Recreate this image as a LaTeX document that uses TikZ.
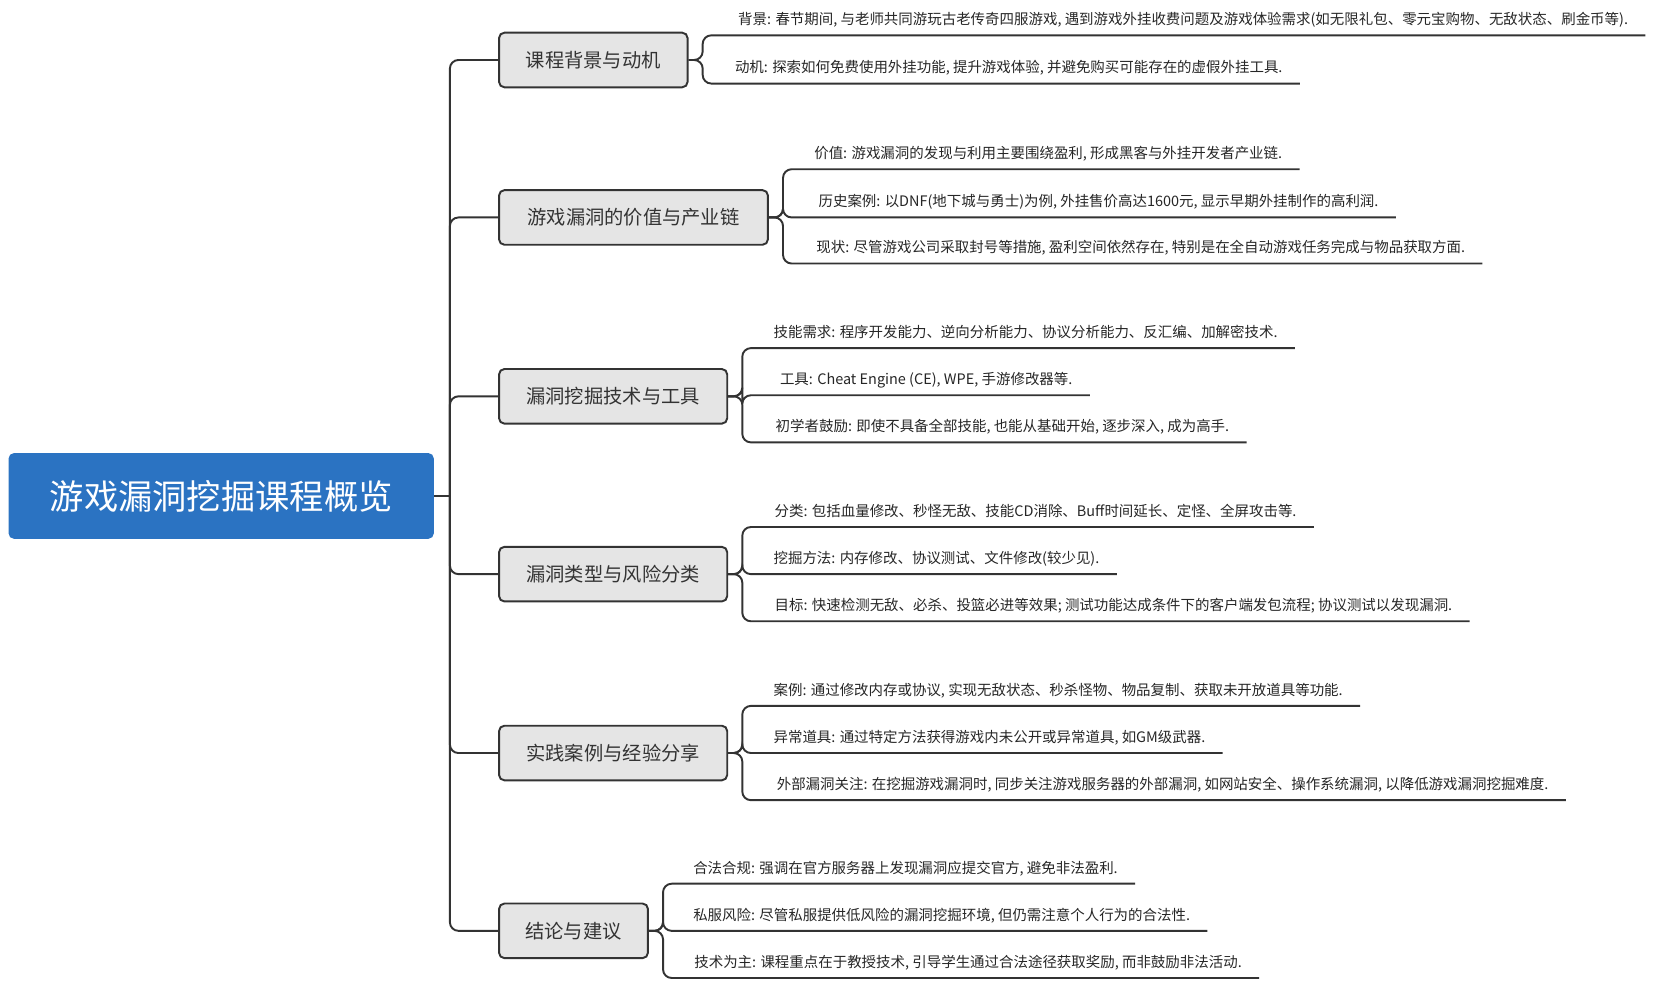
\documentclass[tikz,border=0pt]{standalone}
\usepackage{fontspec}
\setmainfont{Noto Sans CJK SC}
\begin{document}
\begin{tikzpicture}[x=1pt,y=-1pt,
  conn/.style={draw=black!80,line width=1.8pt,rounded corners=8pt},
  rootbox/.style={fill={rgb,255:red,43;green,115;blue,194},rounded corners=5pt,text=white,font=\fontsize{32}{36}\selectfont,minimum width=397pt,minimum height=80pt},
  branch/.style={draw=black!80,line width=1.8pt,fill=black!10,rounded corners=5pt,font=\fontsize{18}{21}\selectfont,text=black!80,minimum height=51pt,inner xsep=10pt,anchor=west},
  leaf/.style={font=\fontsize{13.5}{16}\selectfont,text=black!85,anchor=base west,inner sep=0pt}]
\useasboundingbox (0,0) rectangle (1560,934);
\node[rootbox] (root) at (206.5,463) {游戏漏洞挖掘课程概览};
\coordinate (t) at (420,463);
\draw[conn,rounded corners=0pt] (root.east) -- (t);
% branches
\node[branch,minimum width=176pt] (b1) at (465,56) {课程背景与动机};
\node[branch,minimum width=251pt] (b2) at (465,203) {游戏漏洞的价值与产业链};
\node[branch,minimum width=213pt] (b3) at (465,370) {漏洞挖掘技术与工具};
\node[branch,minimum width=213pt] (b4) at (465,536) {漏洞类型与风险分类};
\node[branch,minimum width=213pt] (b5) at (465,703) {实践案例与经验分享};
\node[branch,minimum width=139pt] (b6) at (465,869) {结论与建议};
\foreach \b in {b1,b2,b3,b4,b5,b6}{\draw[conn] (t) |- (\b.west);}
% branch 1
\node[leaf] (l11) at (689,23) {背景: 春节期间, 与老师共同游玩古老传奇四服游戏, 遇到游戏外挂收费问题及游戏体验需求(如无限礼包、零元宝购物、无敌状态、刷金币等).};
\node[leaf] (l12) at (686,68) {动机: 探索如何免费使用外挂功能, 提升游戏体验, 并避免购买可能存在的虚假外挂工具.};
\foreach \l in {l11,l12}{\draw[conn] (b1.east) -- (656,56) |- ([xshift=16pt,yshift=-10pt]\l.base east);}
% branch 2
\node[leaf] (l21) at (760,148) {价值: 游戏漏洞的发现与利用主要围绕盈利, 形成黑客与外挂开发者产业链.};
\node[leaf] (l22) at (764,193) {历史案例: 以DNF(地下城与勇士)为例, 外挂售价高达1600元, 显示早期外挂制作的高利润.};
\node[leaf] (l23) at (762,236) {现状: 尽管游戏公司采取封号等措施, 盈利空间依然存在, 特别是在全自动游戏任务完成与物品获取方面.};
\foreach \l in {l21,l22,l23}{\draw[conn] (b2.east) -- (731,203) |- ([xshift=16pt,yshift=-10pt]\l.base east);}
% branch 3
\node[leaf] (l31) at (722,315) {技能需求: 程序开发能力、逆向分析能力、协议分析能力、反汇编、加解密技术.};
\node[leaf] (l32) at (728,359) {工具: Cheat Engine (CE), WPE, 手游修改器等.};
\node[leaf] (l33) at (724,403) {初学者鼓励: 即使不具备全部技能, 也能从基础开始, 逐步深入, 成为高手.};
\foreach \l in {l31,l32,l33}{\draw[conn] (b3.east) -- (693,370) |- ([xshift=16pt,yshift=-10pt]\l.base east);}
% branch 4
\node[leaf] (l41) at (723,482) {分类: 包括血量修改、秒怪无敌、技能CD消除、Buff时间延长、定怪、全屏攻击等.};
\node[leaf] (l42) at (722,526) {挖掘方法: 内存修改、协议测试、文件修改(较少见).};
\node[leaf] (l43) at (723,570) {目标: 快速检测无敌、必杀、投篮必进等效果; 测试功能达成条件下的客户端发包流程; 协议测试以发现漏洞.};
\foreach \l in {l41,l42,l43}{\draw[conn] (b4.east) -- (693,536) |- ([xshift=16pt,yshift=-10pt]\l.base east);}
% branch 5
\node[leaf] (l51) at (722,649) {案例: 通过修改内存或协议, 实现无敌状态、秒杀怪物、物品复制、获取未开放道具等功能.};
\node[leaf] (l52) at (722,693) {异常道具: 通过特定方法获得游戏内未公开或异常道具, 如GM级武器.};
\node[leaf] (l53) at (725,737) {外部漏洞关注: 在挖掘游戏漏洞时, 同步关注游戏服务器的外部漏洞, 如网站安全、操作系统漏洞, 以降低游戏漏洞挖掘难度.};
\foreach \l in {l51,l52,l53}{\draw[conn] (b5.east) -- (693,703) |- ([xshift=16pt,yshift=-10pt]\l.base east);}
% branch 6
\node[leaf] (l61) at (647,815) {合法合规: 强调在官方服务器上发现漏洞应提交官方, 避免非法盈利.};
\node[leaf] (l62) at (647,859) {私服风险: 尽管私服提供低风险的漏洞挖掘环境, 但仍需注意个人行为的合法性.};
\node[leaf] (l63) at (648,903) {技术为主: 课程重点在于教授技术, 引导学生通过合法途径获取奖励, 而非鼓励非法活动.};
\foreach \l in {l61,l62,l63}{\draw[conn] (b6.east) -- (619,869) |- ([xshift=16pt,yshift=-10pt]\l.base east);}
\end{tikzpicture}
\end{document}
